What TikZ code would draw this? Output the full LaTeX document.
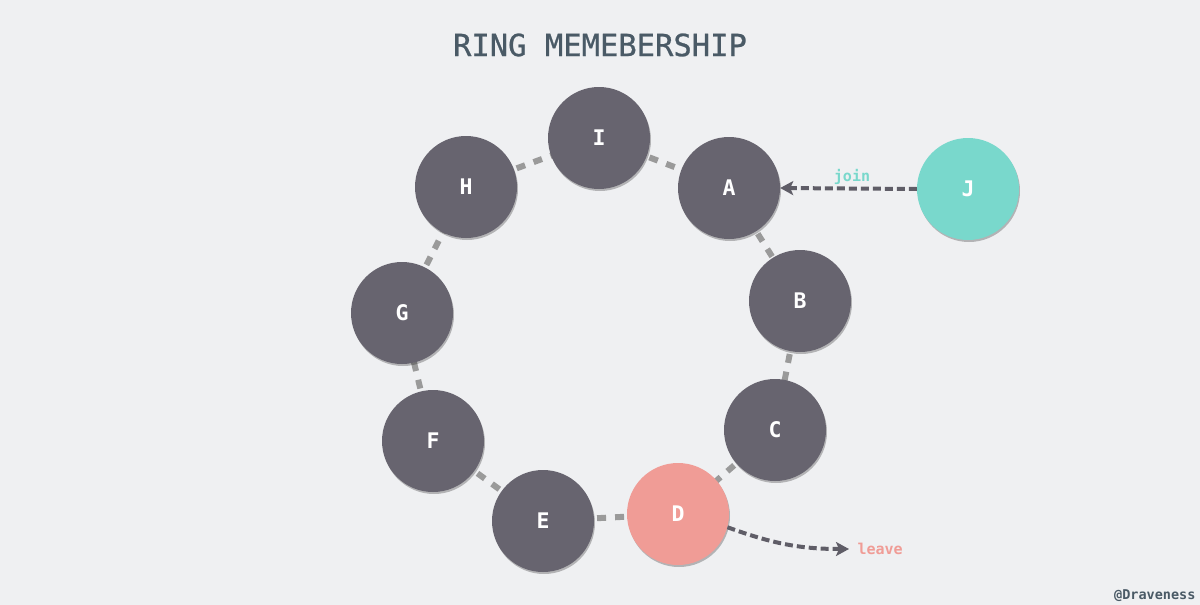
\documentclass[tikz,border=0pt]{standalone}
\usepackage{fontspec}
\setmonofont{DejaVu Sans Mono}
\usetikzlibrary{arrows.meta,shadows}
\definecolor{bg}{HTML}{EFF0F2}
\definecolor{nodegray}{HTML}{67646F}
\definecolor{ringgray}{HTML}{9A9A9A}
\definecolor{arrowgray}{HTML}{5F5D67}
\definecolor{pinkd}{HTML}{F09C96}
\definecolor{teal}{HTML}{79D8CC}
\definecolor{titlec}{HTML}{4A5A66}
\tikzset{
  member/.style={circle, minimum size=102pt, inner sep=0pt, fill=nodegray,
    text=white, font=\ttfamily\bfseries\fontsize{21.5}{24}\selectfont,
    drop shadow={shadow xshift=1pt, shadow yshift=-2pt, opacity=0.25, fill=black}},
  ring/.style={draw=ringgray, line width=6pt, dash pattern=on 9pt off 9pt},
  flow/.style={draw=arrowgray, line width=4pt, dash pattern=on 8pt off 4pt,
    -{Stealth[length=13pt,width=14pt,inset=3pt]}},
}
\begin{document}
\begin{tikzpicture}[x=1pt,y=-1pt]
\fill[bg] (0,0) rectangle (1200,605);
\useasboundingbox (0,0) rectangle (1200,605);
\node (title) at (600,45) {\color{titlec}\ttfamily\fontsize{30.5}{34}\selectfont\addfontfeature{FakeBold=0.8}RING MEMEBERSHIP};
% ring coordinates
\coordinate (cI) at (599,138);
\coordinate (cA) at (729,188);
\coordinate (cB) at (800,301);
\coordinate (cC) at (775,430);
\coordinate (cD) at (678,514);
\coordinate (cE) at (543,521);
\coordinate (cF) at (433,441);
\coordinate (cG) at (402,313);
\coordinate (cH) at (466,187);
\draw[ring] (cI) -- (cA);
\draw[ring] (cA) -- (cB);
\draw[ring] (cB) -- (cC);
\draw[ring] (cC) -- (cD);
\draw[ring] (cD) -- (cE);
\draw[ring] (cE) -- (cF);
\draw[ring] (cF) -- (cG);
\draw[ring] (cG) -- (cH);
\draw[ring] (cH) -- (cI);
\node[member] (I) at (cI) {I};
\node[member] (A) at (cA) {A};
\node[member] (B) at (cB) {B};
\node[member] (C) at (cC) {C};
\node[member, fill=pinkd] (D) at (cD) {D};
\node[member] (E) at (cE) {E};
\node[member] (F) at (cF) {F};
\node[member] (G) at (cG) {G};
\node[member] (H) at (cH) {H};
\node[member, fill=teal] (J) at (968,189) {J};
\draw[flow] (J.west) -- (A.east);
\node[font=\ttfamily\bfseries\fontsize{15}{18}\selectfont, text=teal] (join) at (852,177) {join};
\coordinate (leaveend) at (849,549);
\draw[flow] (D.-15) to[out=-20,in=180] (leaveend);
\node[font=\ttfamily\bfseries\fontsize{15}{18}\selectfont, text=pinkd, anchor=west] (leave) at (854,549) {leave};
\node[font=\ttfamily\bfseries\fontsize{13.5}{16}\selectfont, text=titlec, anchor=east] (mark) at (1199,596) {@Draveness};
\end{tikzpicture}
\end{document}
